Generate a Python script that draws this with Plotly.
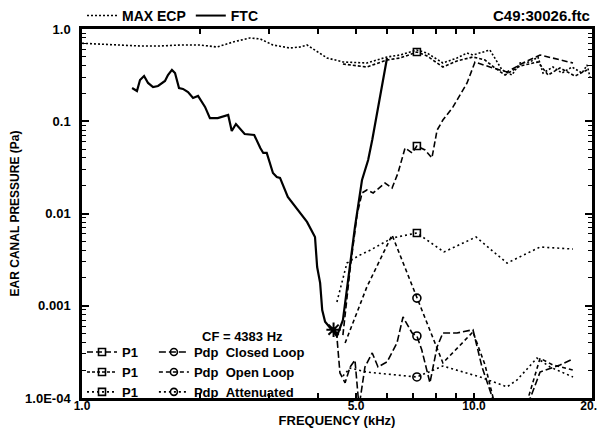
import math
import plotly.graph_objects as go

# ---------------- data ----------------
# Maximum ear-canal pressure
ecp_f = [1.0, 1.11, 1.25, 1.41, 1.58, 1.78, 2.0, 2.21, 2.43, 2.68, 2.85, 3.07, 3.39, 3.60,
         3.75, 4.22, 4.63, 5.33, 6.00, 6.48, 7.15, 7.59, 8.33, 9.05, 9.60, 9.94, 10.98,
         11.79, 12.50, 13.10, 13.90, 14.56, 15.0, 15.9, 16.77, 17.78, 18.86, 19.43, 19.77]
ecp_p = [0.70, 0.688, 0.671, 0.654, 0.654, 0.671, 0.671, 0.638, 0.723, 0.80, 0.779, 0.671,
         0.622, 0.638, 0.671, 0.485, 0.439, 0.428, 0.497, 0.523, 0.592, 0.549, 0.428, 0.485,
         0.549, 0.523, 0.592, 0.36, 0.317, 0.428, 0.439, 0.497, 0.333, 0.387, 0.333, 0.387,
         0.333, 0.407, 0.302]

# Frequency threshold curve
ftc_f = [1.342, 1.381, 1.406, 1.44, 1.474, 1.518, 1.563, 1.628, 1.657, 1.696, 1.727, 1.768,
         1.81, 1.864, 1.92, 1.977, 2.06, 2.12, 2.22, 2.36, 2.41, 2.47, 2.60, 2.75, 2.85, 2.90,
         2.96, 3.07, 3.14, 3.20, 3.35, 3.60, 3.75, 3.93, 3.98, 4.05, 4.10, 4.17, 4.34, 4.47,
         4.63, 4.74, 4.83, 4.97, 5.18, 5.37, 5.50, 6.00]
ftc_p = [0.229, 0.213, 0.28, 0.309, 0.26, 0.235, 0.241, 0.273, 0.317, 0.36, 0.333, 0.229,
         0.224, 0.207, 0.179, 0.188, 0.143, 0.108, 0.108, 0.117, 0.0784, 0.0933, 0.0727,
         0.071, 0.0513, 0.0453, 0.0453, 0.0275, 0.0249, 0.0243, 0.0151, 0.0101, 0.0081,
         0.00556, 0.00263, 0.00177, 0.0009, 0.00067, 0.000546, 0.00047, 0.0007, 0.00148,
         0.00263, 0.00714, 0.0231, 0.038, 0.0626, 0.485]

cf_khz = 4.383
cf_p = 0.00055

# P1 curves
p1_closed_f = [4.63, 4.83, 5.03, 5.18, 5.33, 5.53, 5.93, 6.18, 6.40, 6.67, 6.95, 7.15, 7.50,
               7.81, 8.05, 8.33, 8.84, 9.60, 10.06, 10.98, 12.14, 13.34, 14.74, 17.89]
p1_closed_p = [0.00048, 0.0025, 0.0096, 0.0167, 0.018, 0.0167, 0.0214, 0.0189, 0.0275,
               0.0513, 0.0453, 0.054, 0.0488, 0.040, 0.080, 0.103, 0.143, 0.26, 0.439,
               0.387, 0.342, 0.428, 0.523, 0.428]

p1_open_f = [4.63, 5.33, 6.00, 6.48, 7.15, 7.59, 8.33, 9.05, 9.94, 10.67, 11.31, 12.0, 13.1,
             14.56, 15.45, 16.57, 18.1, 19.43]
p1_open_p = [0.418, 0.387, 0.461, 0.485, 0.563, 0.51, 0.387, 0.45, 0.497, 0.461, 0.378,
             0.317, 0.397, 0.439, 0.317, 0.378, 0.309, 0.36]

p1_att_f = [4.47, 4.74, 5.06, 5.43, 6.18, 7.15, 8.38, 10.12, 12.14, 14.74, 17.89]
p1_att_p = [0.0011, 0.0029, 0.00346, 0.0040, 0.00542, 0.00615, 0.00383, 0.00556, 0.0029,
            0.00433, 0.00412]

# Pdp curves
pdp_closed_f = [4.42, 4.47, 4.55, 4.69, 4.83, 4.97, 5.09, 5.27, 5.50, 5.69, 6.00, 6.36, 6.59,
                6.95, 7.15, 7.36, 7.72, 8.05, 8.33, 9.05, 9.94, 10.48, 11.11, 12.0, 13.1,
                14.74, 16.57, 17.89]
pdp_closed_p = [0.00053, 0.000458, 0.000187, 0.000146, 0.000217, 0.000258, 0.00008, 0.000217,
                0.000308, 0.000217, 0.000246, 0.000394, 0.000755, 0.000507, 0.00047,
                0.000331, 0.000146, 0.000357, 0.000507, 0.000507, 0.00055, 0.000217,
                0.000105, 0.00005, 0.00005, 0.000191, 0.000228, 0.000265]

pdp_open_f = [4.69, 5.33, 6.18, 7.15, 8.05, 8.33, 9.94, 10.67, 11.65, 13.1, 14.74, 15.9, 17.89]
pdp_open_p = [0.000394, 0.0016, 0.00585, 0.00121, 0.000331, 0.00024, 0.00052, 0.000228,
              0.00005, 0.00005, 0.00027, 0.000228, 0.000201]

pdp_att_f = [4.63, 4.83, 5.33, 7.15, 8.33, 10.36, 12.14, 12.88, 14.48, 15.63, 17.89]
pdp_att_p = [0.000173, 0.000211, 0.000191, 0.000169, 0.000222, 0.000169, 0.000132, 0.000157,
             0.000271, 0.000217, 0.000169]

marker_f = 7.15  # frequency at which the symbols are drawn

x_tick_vals = [1, 2, 3, 4, 5, 6, 7, 8, 9, 10, 20]
x_tick_text = ["1.0", "", "", "", "5.0", "", "", "", "", "10.0", "20.0"]
y_tick_vals = [1.0, 0.1, 0.01, 0.001, 0.0001]
y_tick_text = ["1.0", "0.1", "0.01", "0.001", "1.0E-04"]

# ---------------- figure ----------------
FONT = "Liberation Sans"
K = "#000000"
fig = go.Figure()


def bold(size):
    return dict(family=FONT, size=size, color=K, weight="bold")


def curve(f, p, dash, width=1.6):
    fig.add_trace(go.Scatter(x=f, y=p, mode="lines", showlegend=False, hoverinfo="skip",
                             line=dict(color=K, width=width, dash=dash)))


def symbol_at(f, p, symbol, size):
    i = f.index(marker_f)
    fig.add_trace(go.Scatter(x=[f[i]], y=[p[i]], mode="markers", showlegend=False,
                             hoverinfo="skip",
                             marker=dict(symbol=symbol, size=size, color=K,
                                         line=dict(color=K, width=1.6))))


def legend_entry(name, dash, symbol, legend, width=1.6):
    fig.add_trace(go.Scatter(x=[None], y=[None], mode="lines+markers" if symbol else "lines",
                             name=name, legend=legend,
                             line=dict(color=K, width=width, dash=dash),
                             marker=dict(symbol=symbol or "circle", size=7, color=K,
                                         line=dict(color=K, width=1.6))))


D_ECP = "2px,2px"
D_P1C = "6px,3px"
D_P1O = "3px,2px"
D_P1A = "2px,3px"
D_PDC = "7px,3px"
D_PDO = "4px,3px"
D_PDA = "2px,3px"

curve(ecp_f, ecp_p, D_ECP, 1.6)
curve(p1_open_f, p1_open_p, D_P1O)
curve(p1_closed_f, p1_closed_p, D_P1C)
curve(p1_att_f, p1_att_p, D_P1A)
curve(pdp_closed_f, pdp_closed_p, D_PDC)
curve(pdp_open_f, pdp_open_p, D_PDO)
curve(pdp_att_f, pdp_att_p, D_PDA)
curve(ftc_f, ftc_p, "solid", 2.2)

symbol_at(p1_open_f, p1_open_p, "square-open", 7)
symbol_at(p1_closed_f, p1_closed_p, "square-open", 7)
symbol_at(p1_att_f, p1_att_p, "square-open", 7)
symbol_at(pdp_closed_f, pdp_closed_p, "circle-open", 8)
symbol_at(pdp_open_f, pdp_open_p, "circle-open", 8)
symbol_at(pdp_att_f, pdp_att_p, "circle-open", 8)

# CF marker
fig.add_trace(go.Scatter(x=[cf_khz], y=[cf_p], mode="markers", showlegend=False,
                         hoverinfo="skip",
                         marker=dict(symbol="asterisk-open", size=12, color=K,
                                     line=dict(color=K, width=2))))

# legends
legend_entry("MAX ECP", D_ECP, None, "legend")
legend_entry("FTC", "solid", None, "legend", 2)
legend_entry("P1", D_P1C, "square-open", "legend2")
legend_entry("P1", D_P1O, "square-open", "legend2")
legend_entry("P1", D_P1A, "square-open", "legend2")
legend_entry("Pdp\u00a0\u00a0Closed Loop", D_PDC, "circle-open", "legend3")
legend_entry("Pdp\u00a0\u00a0Open Loop", D_PDO, "circle-open", "legend3")
legend_entry("Pdp\u00a0\u00a0Attenuated", D_PDA, "circle-open", "legend3")

y_minor = [m * 10 ** e for e in range(-4, 0) for m in range(2, 10)]

legend_common = dict(bgcolor="rgba(0,0,0,0)", borderwidth=0,
                     tracegroupgap=0, itemclick=False, itemdoubleclick=False,
                     itemwidth=30)

# the page body adds an 8px offset, so the figure is 8px smaller than the window
fig.update_layout(
    width=597, height=420,
    margin=dict(l=74, r=13, t=21, b=30, autoexpand=False),
    paper_bgcolor="white", plot_bgcolor="white",
    font=bold(13),
    xaxis=dict(type="log", range=[0, math.log10(20)], tickvals=x_tick_vals,
               ticktext=x_tick_text, ticks="inside", ticklen=5, tickwidth=1.5,
               tickcolor=K, mirror="allticks", showline=True, linewidth=2.5, linecolor=K,
               showgrid=False, zeroline=False, tickfont=bold(12), ticklabelstandoff=-5,
               ticklabeloverflow="allow",
               title=dict(text="FREQUENCY (kHz)", standoff=2, font=bold(13))),
    yaxis=dict(type="log", range=[-4, 0], tickvals=y_tick_vals, ticktext=y_tick_text,
               ticks="inside", ticklen=7, tickwidth=1.5, tickcolor=K, mirror="allticks",
               showline=True, linewidth=2.5, linecolor=K, showgrid=False, zeroline=False,
               minor=dict(tickvals=y_minor, ticks="inside", ticklen=4, tickwidth=1.2,
                          tickcolor=K, showgrid=False),
               tickfont=bold(13), ticklabelstandoff=6,
               title=dict(text="EAR CANAL PRESSURE (Pa)", standoff=6, font=bold(12))),
    legend=dict(orientation="h", x=0.0, xanchor="left", y=0.992, yanchor="bottom",
                font=bold(14), **legend_common),
    legend2=dict(orientation="v", x=0.0, xanchor="left", y=0.165, yanchor="top",
                 font=bold(13), **legend_common),
    legend3=dict(orientation="v", x=0.141, xanchor="left", y=0.165, yanchor="top",
                 font=bold(13), **legend_common),
    showlegend=True,
)

fig.add_annotation(text="C49:30026.ftc", xref="paper", yref="paper", x=1.0, y=1.0,
                   xanchor="right", yanchor="bottom", yshift=3, showarrow=False,
                   font=bold(15))
fig.add_annotation(text="CF = 4383 Hz", xref="paper", yref="paper", x=0.231, y=0.168,
                   xanchor="left", yanchor="middle", showarrow=False, font=bold(13))

fig.write_html("out.html")
